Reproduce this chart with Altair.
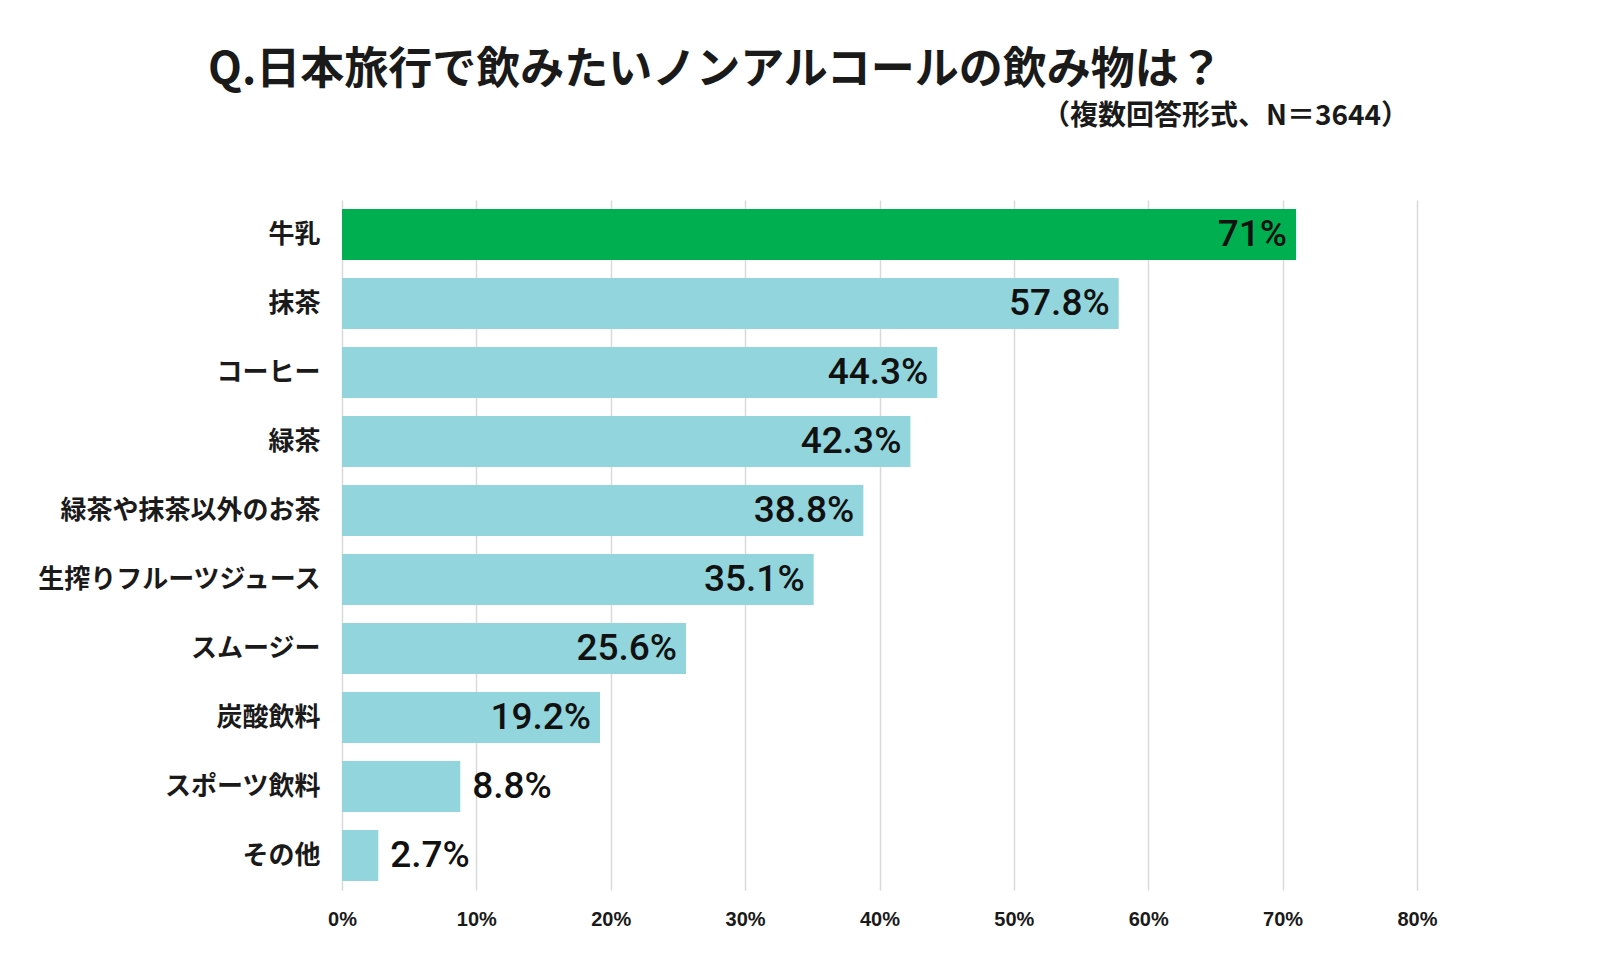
import altair as alt
import pandas as pd

categories = ["牛乳", "抹茶", "コーヒー", "緑茶", "緑茶や抹茶以外のお茶",
              "生搾りフルーツジュース", "スムージー", "炭酸飲料", "スポーツ飲料", "その他"]
values = [71, 57.8, 44.3, 42.3, 38.8, 35.1, 25.6, 19.2, 8.8, 2.7]
x_ticks = [0, 10, 20, 30, 40, 50, 60, 70, 80]
highlight = "牛乳"

title_text = "Q.日本旅行で飲みたいノンアルコールの飲み物は？"
subtitle_text = "（複数回答形式、N＝3644）"

df = pd.DataFrame({"category": categories, "value": values})
df["label"] = [f"{v:g}%" for v in values]
df["inside"] = df["value"] >= 15

JP = "Noto Sans CJK JP"

base = alt.Chart(df).encode(
    y=alt.Y("category:N", sort=categories,
            scale=alt.Scale(paddingInner=0.26, paddingOuter=0.13),
            axis=alt.Axis(title=None, ticks=False, tickSize=0, domain=False,
                          labelFont=JP, labelFontWeight="bold", labelFontSize=26,
                          labelColor="#1a1a1a", labelPadding=22, labelLimit=400,
                          grid=False)),
)

bars = base.mark_bar().encode(
    x=alt.X("value:Q", scale=alt.Scale(domain=[0, 80], nice=False),
            axis=alt.Axis(title=None, values=x_ticks, format=".0f",
                          labelExpr="datum.value + '%'", labelFlush=False,
                          ticks=False, tickSize=0, domain=False,
                          grid=True, gridColor="#d9d9d9", gridWidth=1.5,
                          labelFont="Liberation Sans",
                          labelFontWeight="bold", labelFontSize=20,
                          labelColor="#1a1a1a", labelPadding=19)),
    color=alt.condition(alt.datum.category == highlight,
                        alt.value("#00b050"), alt.value("#92d5dc")),
)

text_in = base.transform_filter("datum.inside").mark_text(
    align="right", baseline="middle", dx=-9,
    font="Roboto", fontWeight=500, fontSize=37, color="#111111"
).encode(x="value:Q", text="label:N")

text_out = base.transform_filter("!datum.inside").mark_text(
    align="left", baseline="middle", dx=12,
    font="Roboto", fontWeight=500, fontSize=37, color="#111111"
).encode(x="value:Q", text="label:N")

subtitle = alt.Chart(pd.DataFrame({"t": [subtitle_text]})).mark_text(
    align="right", baseline="middle", font=JP, fontWeight="bold",
    fontSize=28, color="#1a1a1a"
).encode(x=alt.value(1067), y=alt.value(-83), text="t:N")

chart = alt.layer(bars, text_in, text_out, subtitle).properties(
    width=1075, height=690,
    autosize=alt.AutoSizeParams(type="none"),
    padding={"left": 334, "top": 192, "right": 175, "bottom": 64},
    background="white",
    title=alt.TitleParams(title_text, anchor="start", frame="group", dx=-134,
                          offset=10, font=JP, fontWeight="bold", fontSize=44,
                          color="#1a1a1a"),
).configure_view(stroke=None)

chart.save("out.html", embed_options={"renderer": "svg", "actions": False})
